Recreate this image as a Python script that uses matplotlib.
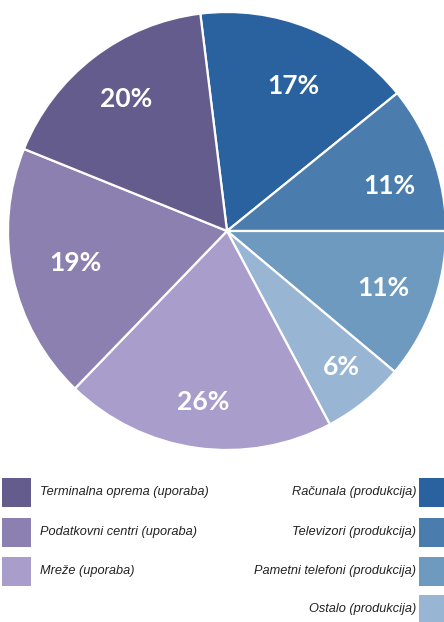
import numpy as np
import matplotlib
matplotlib.use("Agg")
import matplotlib.pyplot as plt
from matplotlib.patches import Rectangle

# slice order, clockwise from the top
categories = ["Računala (produkcija)", "Televizori (produkcija)",
              "Pametni telefoni (produkcija)", "Ostalo (produkcija)",
              "Mreže (uporaba)", "Podatkovni centri (uporaba)",
              "Terminalna oprema (uporaba)"]
# slice sizes as drawn in the picture (degrees of arc)
slice_sizes = [58, 39, 40, 22, 72, 68, 61]
# the printed percentage labels
pct_labels = ["17%", "11%", "11%", "6%", "26%", "19%", "20%"]
colors = ["#2A62A0", "#4A7DAE", "#6E9ABF", "#98B6D3",
          "#A99DCB", "#8B80AF", "#645C8C"]

left_legend = ["Terminalna oprema (uporaba)", "Podatkovni centri (uporaba)",
               "Mreže (uporaba)"]
right_legend = ["Računala (produkcija)", "Televizori (produkcija)",
                "Pametni telefoni (produkcija)", "Ostalo (produkcija)"]

W, H = 444, 622
fig = plt.figure(figsize=(W / 100, H / 100), dpi=100)
fig.patch.set_facecolor("white")

# pie: centre (227, 231) px, radius 219 px
cx, cy, r = 227, 231, 219
ax = fig.add_axes([(cx - r) / W, (H - cy - r) / H, 2 * r / W, 2 * r / H])
wedges, texts = ax.pie(slice_sizes, labels=pct_labels, colors=colors,
                       startangle=97, counterclock=False, labeldistance=0.76,
                       wedgeprops=dict(edgecolor="white", linewidth=1.6),
                       textprops=dict(color="white", fontsize=19, fontweight="bold",
                                      family="Lato", ha="center", va="center"))
# labels sit at slightly different places inside their slices
label_dist = [0.73, 0.77, 0.76, 0.81, 0.79, 0.71, 0.76]
label_turn = [-2.5, -4, 0, 1, 0, 0, 0]
for w, t, d, a in zip(wedges, texts, label_dist, label_turn):
    mid = np.deg2rad((w.theta1 + w.theta2) / 2 + a)
    t.set_position((d * np.cos(mid), d * np.sin(mid)))

ax.set_xlim(-1, 1)
ax.set_ylim(-1, 1)
ax.set_aspect("equal")
ax.axis("off")

# legend drawn in pixel coordinates
lax = fig.add_axes([0, 0, 1, 1], zorder=-1)
lax.set_xlim(0, W)
lax.set_ylim(H, 0)
lax.axis("off")

rows_y = [492, 532, 571, 609]
cmap = dict(zip(categories, colors))
box = 29
for name, y in zip(left_legend, rows_y):
    lax.add_patch(Rectangle((2, y - box / 2), box, box, color=cmap[name], lw=0))
    lax.text(40, y, name, ha="left", va="center", fontsize=9.2, style="italic",
             family="Liberation Sans", color="#222222")
for name, y in zip(right_legend, rows_y):
    lax.add_patch(Rectangle((419, y - box / 2), box, box, color=cmap[name], lw=0))
    lax.text(416, y, name, ha="right", va="center", fontsize=9.2, style="italic",
             family="Liberation Sans", color="#222222")

fig.savefig("out.png", dpi=100)
